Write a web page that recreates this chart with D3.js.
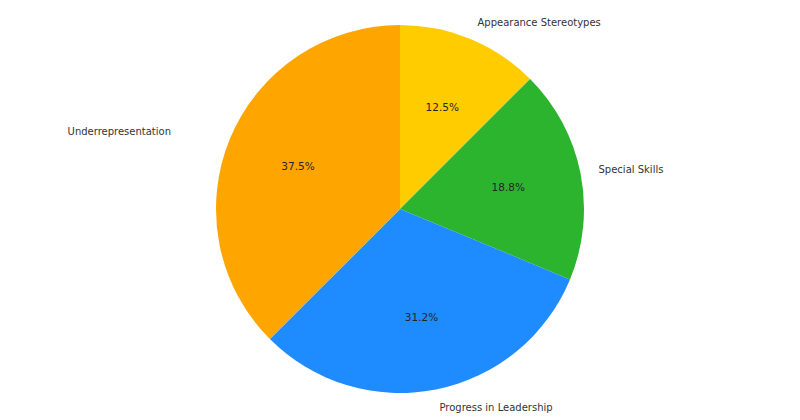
<!DOCTYPE html>
<html>
<head>
<meta charset="utf-8">
<script src="https://cdn.jsdelivr.net/npm/d3@7"></script>
<style>
  body { margin: 0; background: #fff; }
  svg { display: block; font-family: "DejaVu Sans", sans-serif; }
</style>
</head>
<body>
<svg></svg>
<script>
const categories = ["Appearance Stereotypes", "Special Skills", "Progress in Leadership", "Underrepresentation"];
const values = [12.5, 18.75, 31.25, 37.5];
const colors = ["#ffcc00", "#2cb42f", "#1e8cff", "#ffa500"];

const width = 800;
const height = 420;
const cx = 400, cy = 209;
const radius = 184;

const svg = d3.select("svg").attr("width", width).attr("height", height);
const g = svg.append("g").attr("transform", `translate(${cx},${cy})`);

const data = categories.map((c, i) => ({ name: c, value: values[i], color: colors[i] }));

// clockwise from 12 o'clock, like the original
const pie = d3.pie().value(d => d.value).sort(null);
const arcs = pie(data);
const total = d3.sum(values);

// round half to even, so 31.25 -> 31.2 as in the source chart
function pct(v) {
  const x = v * 10;
  const f = Math.floor(x);
  const diff = x - f;
  let r;
  if (Math.abs(diff - 0.5) < 1e-9) r = f % 2 === 0 ? f : f + 1;
  else r = Math.round(x);
  return (r / 10).toFixed(1) + "%";
}

const arc = d3.arc().innerRadius(0).outerRadius(radius);
const pctArc = d3.arc().innerRadius(radius * 0.6).outerRadius(radius * 0.6);
const labelArc = d3.arc().innerRadius(radius * 1.1).outerRadius(radius * 1.1);

g.selectAll("path.slice")
  .data(arcs)
  .join("path")
  .attr("class", "slice")
  .attr("d", arc)
  .attr("fill", d => d.data.color);

g.selectAll("text.pct")
  .data(arcs)
  .join("text")
  .attr("class", "pct")
  .attr("transform", d => `translate(${pctArc.centroid(d)})`)
  .attr("text-anchor", "middle")
  .attr("dy", "0.35em")
  .attr("font-size", 10.5)
  .attr("fill", "#262626")
  .text(d => pct(d.data.value / total * 100));

g.selectAll("text.label")
  .data(arcs)
  .join("text")
  .attr("class", "label")
  .attr("transform", d => {
    const [x, y] = labelArc.centroid(d);
    // left side labels sit a bit further out in the original
    return `translate(${x < 0 ? x - 42 : x},${y})`;
  })
  .attr("text-anchor", d => labelArc.centroid(d)[0] < 0 ? "end" : "start")
  .attr("dy", "0.35em")
  .attr("font-size", 10)
  .attr("fill", "#333")
  .text(d => d.data.name);
</script>
</body>
</html>
